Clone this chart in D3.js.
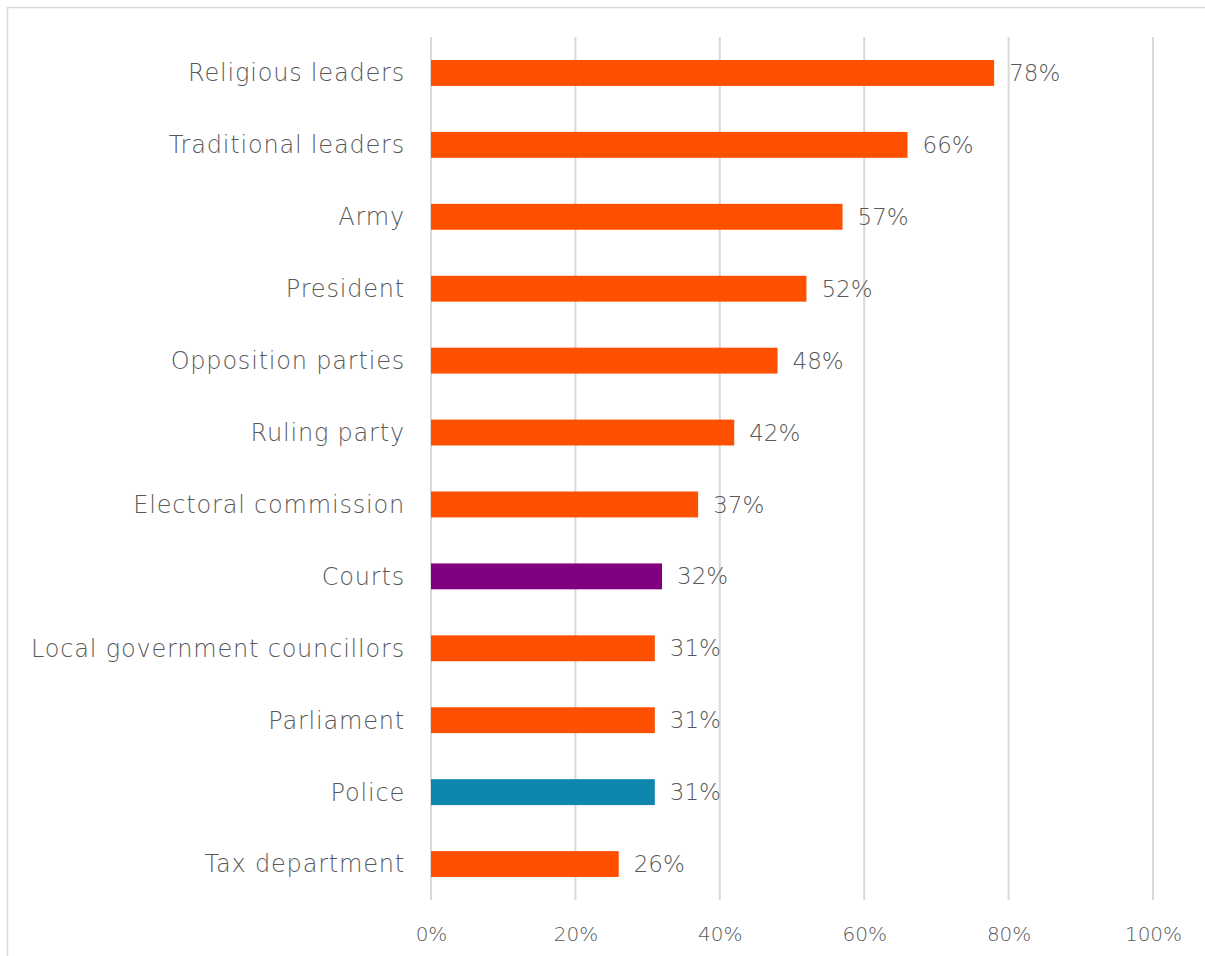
<!DOCTYPE html>
<html>
<head>
<meta charset="utf-8">
<script src="https://cdn.jsdelivr.net/npm/d3@7"></script>
<style>
  html, body { margin: 0; padding: 0; background: #fff; }
  svg { display: block; }
  text { font-family: "DejaVu Sans", sans-serif; font-weight: 300; fill: #595959; }
</style>
</head>
<body>
<svg id="chart" width="1205" height="956"></svg>
<script>
// Share of respondents who trust each institution
const categories = [
  "Religious leaders", "Traditional leaders", "Army", "President",
  "Opposition parties", "Ruling party", "Electoral commission", "Courts",
  "Local government councillors", "Parliament", "Police", "Tax department"
];
const values = [78, 66, 57, 52, 48, 42, 37, 32, 31, 31, 31, 26];
const barColors = [
  "#FF5000", "#FF5000", "#FF5000", "#FF5000", "#FF5000", "#FF5000",
  "#FF5000", "#800080", "#FF5000", "#FF5000", "#0E86AD", "#FF5000"
];
const tickValues = [0, 20, 40, 60, 80, 100];

const svg = d3.select("#chart");
const W = 1205, H = 956;

// outer frame
svg.append("path")
  .attr("d", `M7.5,${H} V7.5 H${W}`)
  .attr("fill", "none")
  .attr("stroke", "#d9d9d9")
  .attr("stroke-width", 1.5);

const x = d3.scaleLinear().domain([0, 100]).range([431, 1153]);
const y = d3.scaleBand().domain(categories).range([37, 900]).paddingInner(0.64).paddingOuter(0.32);

// vertical gridlines
svg.append("g").selectAll("line").data(tickValues).join("line")
  .attr("x1", d => x(d)).attr("x2", d => x(d))
  .attr("y1", 37).attr("y2", 900)
  .attr("stroke", "#d9d9d9").attr("stroke-width", 2);

// x axis tick labels
const xAxis = d3.axisBottom(x).tickValues(tickValues).tickSize(0).tickPadding(0)
  .tickFormat(d => d + "%");
const gx = svg.append("g").attr("transform", "translate(0,941)").call(xAxis);
gx.select(".domain").remove();
gx.selectAll("text").attr("font-size", 20).attr("dy", 0)
  .style("font-family", "'DejaVu Sans', sans-serif").style("font-weight", 300)
  .attr("fill", "#595959");

// category labels
const yAxis = d3.axisLeft(y).tickSize(0).tickPadding(26);
const gy = svg.append("g").attr("transform", "translate(431,0)").call(yAxis);
gy.select(".domain").remove();
gy.selectAll("text").attr("font-size", 24).attr("dy", "0.35em")
  .attr("letter-spacing", 0.8)
  .style("font-family", "'DejaVu Sans', sans-serif").style("font-weight", 300)
  .attr("fill", "#595959");

// bars
svg.append("g").selectAll("rect").data(categories).join("rect")
  .attr("x", x(0))
  .attr("y", d => y(d))
  .attr("width", (d, i) => x(values[i]) - x(0))
  .attr("height", y.bandwidth())
  .attr("fill", (d, i) => barColors[i]);

// value labels
svg.append("g").selectAll("text").data(categories).join("text")
  .attr("x", (d, i) => x(values[i]) + 15)
  .attr("y", d => y(d) + y.bandwidth() / 2)
  .attr("dy", "0.35em")
  .attr("font-size", 23)
  .text((d, i) => values[i] + "%");
</script>
</body>
</html>
